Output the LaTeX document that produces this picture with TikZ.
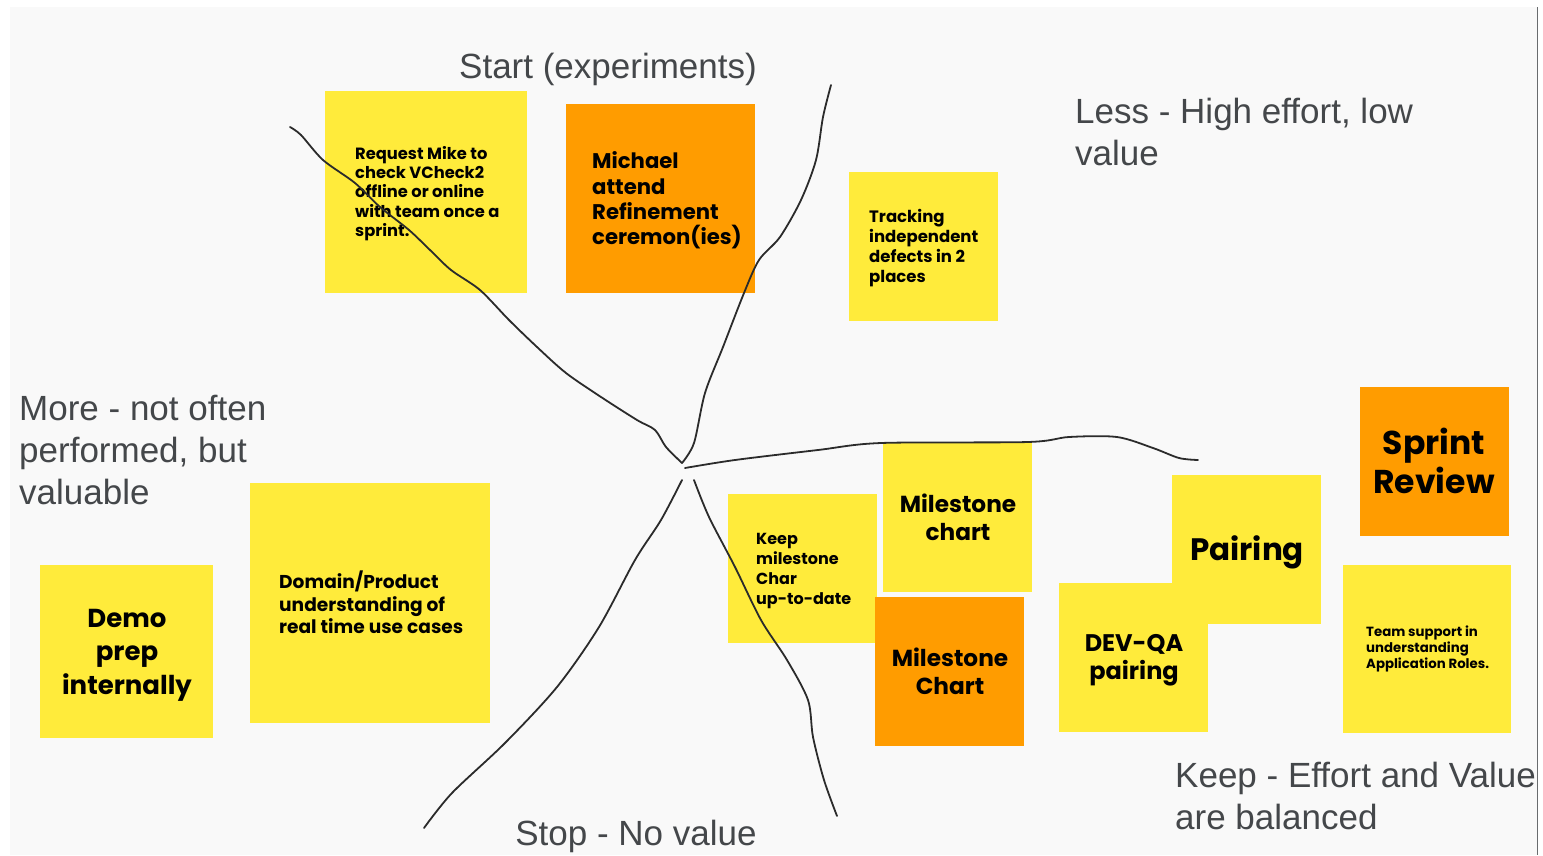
\documentclass[tikz,border=0pt]{standalone}
\usepackage{fontspec}
\setmainfont{Poppins}
\newfontfamily\headfont{Liberation Sans}
\definecolor{boardbg}{HTML}{F9F9F9}
\definecolor{stickyyellow}{HTML}{FFEB3B}
\definecolor{stickyorange}{HTML}{FF9C00}
\definecolor{headgray}{HTML}{44474A}
\definecolor{penink}{HTML}{2B2B2B}
\tikzset{
  sticky/.style={draw=none, inner sep=0, anchor=north west},
  yellownote/.style={sticky, fill=stickyyellow},
  orangenote/.style={sticky, fill=stickyorange},
  notetext/.style={inner sep=0, text=black, font=\bfseries},
  heading/.style={inner sep=0, text=headgray, align=left},
  pen/.style={draw=penink, line width=1.8pt, line cap=round, line join=round}
}
\newcommand{\fsz}[2]{\fontsize{#1}{#2}\selectfont}
\begin{document}
\begin{tikzpicture}[x=1pt, y=-1pt]
\useasboundingbox (0,0) rectangle (1543,855);
% board
\fill[white] (0,0) rectangle (1543,855);
\fill[boardbg] (10,7) rectangle (1537,855);
\draw[draw=headgray!80, line width=1.5pt] (1537.5,7) -- (1537.5,855);

% sticky notes
\node[yellownote, minimum width=202, minimum height=202] (reqnote) at (325,91) {};
\node[orangenote, minimum width=189, minimum height=189] (michnote) at (566,104) {};
\node[yellownote, minimum width=149, minimum height=149] (tracknote) at (849,172) {};
\node[orangenote, minimum width=149, minimum height=149] (sprintnote) at (1360,387) {};
\node[yellownote, minimum width=149, minimum height=149] (mschartnote) at (883,443) {};
\node[yellownote, minimum width=149, minimum height=149] (devqanote) at (1059,583) {};
\node[yellownote, minimum width=149, minimum height=149] (pairnote) at (1172,475) {};
\node[yellownote, minimum width=149, minimum height=149] (keepnote) at (728,494) {};
\node[yellownote, minimum width=240, minimum height=240] (domainnote) at (250,483) {};
\node[yellownote, minimum width=173, minimum height=173] (demonote) at (40,565) {};
\node[yellownote, minimum width=168, minimum height=168] (teamnote) at (1343,565) {};
\node[orangenote, minimum width=149, minimum height=149] (msorangenote) at (875,597) {};

% note texts
\node[notetext, anchor=west, align=left, font=\bfseries\fsz{16.3}{19.3}] (reqtext) at (355,193.5)
  {Request Mike to\\check VCheck2\\offline or online\\with team once a\\sprint.};
\node[notetext, anchor=west, align=left, font=\bfseries\fsz{21.2}{25.3}] (michtext) at (592,200.5)
  {Michael\\attend\\Refinement\\ceremon(ies)};
\node[notetext, anchor=west, align=left, font=\bfseries\fsz{16.5}{20}] (tracktext) at (869,248)
  {Tracking\\independent\\defects in 2\\places};
\node[notetext, align=center, font=\bfseries\fsz{33}{39}] (sprinttext) at (1434,461)
  {Sprint\\Review};
\node[notetext, align=center, font=\bfseries\fsz{23.2}{28}] (mscharttext) at (958,517)
  {Milestone\\chart};
\node[notetext, align=center, font=\bfseries\fsz{31}{38}] (pairtext) at (1247,552)
  {Pairing};
\node[notetext, anchor=west, align=left, font=\bfseries\fsz{16}{20}] (keeptext) at (756,571)
  {Keep\\milestone\\Char\\up-to-date};
\node[notetext, anchor=west, align=left, font=\bfseries\fsz{18.6}{22.5}] (domaintext) at (279,602.5)
  {Domain/Product\\understanding of\\real time use cases};
\node[notetext, align=center, font=\bfseries\fsz{26}{33.5}] (demotext) at (127,655)
  {Demo\\prep\\internally};
\node[notetext, anchor=west, align=left, font=\bfseries\fsz{13.3}{16}] (teamtext) at (1366,649)
  {Team support in\\understanding\\Application Roles.};
\node[notetext, align=center, font=\bfseries\fsz{23.2}{28}] (msorangetext) at (950,671)
  {Milestone\\Chart};
\node[notetext, align=center, font=\bfseries\fsz{24}{28}] (devqatext) at (1134,660.5)
  {DEV-QA\\pairing};

% hand-drawn quadrant strokes
\draw[pen] plot[smooth, tension=0.5] coordinates {
  (290,127) (301,135) (323,160) (355,183) (380,207) (409,230) (430,250)
  (451,270) (480,290) (509,320) (537,347) (566,373) (601,397) (637,420)
  (655,430) (666,447) (682,463)};
\draw[pen] plot[smooth, tension=0.5] coordinates {
  (682,463) (694,443) (705,393) (723,347) (744,293) (759,260) (780,237)
  (801,200) (816,160) (823,117) (831,85)};
\draw[pen] plot[smooth, tension=0.5] coordinates {
  (685,468) (735,460) (818,450) (881,443) (1028,442) (1069,437) (1117,437)
  (1153,448) (1179,458) (1198,460)};
\draw[pen] plot[smooth, tension=0.5] coordinates {
  (682,480) (661,520) (635,560) (599,627) (557,687) (505,743) (452,793)
  (424,828)};
\draw[pen] plot[smooth, tension=0.5] coordinates {
  (694,480) (709,517) (735,567) (761,620) (787,660) (808,700) (813,737)
  (824,780) (837,816)};

% quadrant headings
\node[heading, font=\headfont\fsz{35}{42}] (starthead) at (608,69) {Start (experiments)};
\node[heading, anchor=west, font=\headfont\fsz{35}{42}] (lesshead) at (1075,132)
  {Less - High effort, low\\value};
\node[heading, anchor=west, font=\headfont\fsz{35}{42}] (morehead) at (19,450)
  {More - not often\\performed, but\\valuable};
\node[heading, font=\headfont\fsz{35}{42}] (stophead) at (636,836) {Stop - No value};
\begin{scope}
  \clip (10,0) rectangle (1536.7,855);
  \node[heading, anchor=west, font=\headfont\fsz{35}{42}] (keephead) at (1175,796)
    {Keep - Effort and Value\\are balanced};
\end{scope}
\end{tikzpicture}
\end{document}
